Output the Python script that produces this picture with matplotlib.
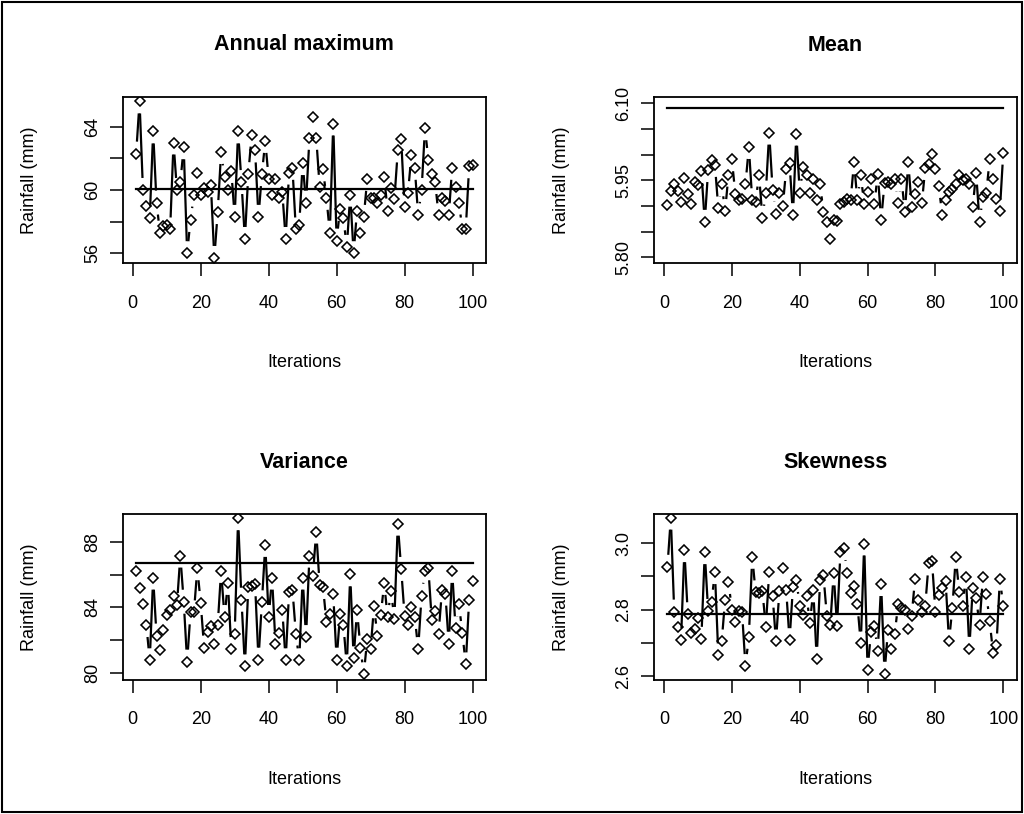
import numpy as np
import matplotlib
matplotlib.use("Agg")
import matplotlib.pyplot as plt
from matplotlib.collections import LineCollection
from matplotlib.patches import Rectangle

plt.rcParams['font.family'] = ['Liberation Sans', 'DejaVu Sans']

iterations = np.arange(1, 101)

annual_max = [62.3, 65.6, 60.0, 59.0, 58.2, 63.7, 59.2, 57.3, 57.7, 57.8,
              57.5, 63.0, 60.0, 60.5, 62.7, 56.0, 58.1, 59.7, 61.1, 59.7,
              60.1, 59.9, 60.3, 55.7, 58.6, 62.4, 60.8, 60.0, 61.2, 58.3,
              63.7, 60.5, 56.9, 61.0, 63.5, 62.5, 58.3, 61.0, 63.1, 60.7,
              59.7, 60.7, 59.5, 59.9, 56.9, 61.1, 61.4, 57.5, 57.8, 61.7,
              59.2, 63.3, 64.6, 63.3, 60.2, 61.3, 59.5, 57.3, 64.2, 56.8,
              58.8, 58.2, 56.4, 59.7, 56.0, 58.7, 57.3, 58.3, 60.7, 59.5,
              59.5, 59.2, 59.7, 60.8, 58.7, 60.1, 59.4, 62.5, 63.2, 58.9,
              59.8, 62.2, 61.4, 58.4, 60.0, 63.9, 61.9, 61.0, 60.5, 58.4,
              59.5, 59.3, 58.4, 61.4, 60.2, 59.2, 57.5, 57.5, 61.5, 61.6]
annual_max_obs = 60.05

mean_vals = [5.901, 5.930, 5.942, 5.930, 5.908, 5.954, 5.924, 5.904, 5.947, 5.940,
             5.968, 5.869, 5.970, 5.989, 5.980, 5.895, 5.942, 5.890, 5.961, 5.991,
             5.924, 5.911, 5.914, 5.942, 6.015, 5.911, 5.908, 5.961, 5.877, 5.926,
             6.043, 5.932, 5.885, 5.926, 5.899, 5.972, 5.983, 5.882, 6.041, 5.926,
             5.976, 5.961, 5.926, 5.952, 5.911, 5.942, 5.888, 5.869, 5.835, 5.872,
             5.870, 5.903, 5.908, 5.914, 5.911, 5.985, 5.911, 5.960, 5.903, 5.927,
             5.952, 5.903, 5.963, 5.872, 5.945, 5.947, 5.942, 5.952, 5.905, 5.952,
             5.888, 5.985, 5.898, 5.924, 5.947, 5.905, 5.974, 5.981, 6.002, 5.973,
             5.939, 5.882, 5.911, 5.927, 5.933, 5.942, 5.960, 5.950, 5.952, 5.942,
             5.898, 5.965, 5.869, 5.918, 5.926, 5.991, 5.952, 5.914, 5.891, 6.004]
mean_obs = 6.092

variance_vals = [86.22, 85.20, 84.19, 82.93, 80.79, 85.81, 82.29, 81.39, 82.61, 83.54,
                 83.87, 84.72, 84.15, 87.15, 84.35, 80.71, 83.70, 83.70, 86.38, 84.27,
                 81.56, 82.53, 82.85, 81.80, 82.93, 86.22, 83.42, 85.49, 81.47, 82.41,
                 89.42, 84.47, 80.42, 85.24, 85.28, 85.41, 80.83, 84.31, 87.80, 83.42,
                 85.81, 81.80, 82.45, 83.87, 80.79, 84.92, 85.08, 82.41, 80.79, 85.81,
                 82.20, 87.15, 85.93, 88.61, 85.37, 85.24, 83.10, 83.58, 84.80, 80.83,
                 83.58, 82.93, 80.42, 86.01, 80.91, 83.83, 81.56, 79.94, 82.08, 81.47,
                 84.07, 82.29, 83.54, 85.49, 83.42, 85.00, 83.30, 89.09, 86.34, 83.50,
                 82.93, 84.03, 83.42, 81.47, 84.72, 86.22, 86.38, 83.22, 83.79, 82.41,
                 85.04, 84.84, 81.80, 86.22, 82.73, 84.19, 82.45, 80.54, 84.47, 85.61]
variance_obs = 86.68

skewness_vals = [2.929, 3.077, 2.794, 2.748, 2.708, 2.979, 2.786, 2.730, 2.742, 2.774,
                 2.712, 2.973, 2.796, 2.824, 2.913, 2.662, 2.704, 2.830, 2.883, 2.800,
                 2.764, 2.796, 2.792, 2.630, 2.718, 2.959, 2.852, 2.850, 2.856, 2.748,
                 2.913, 2.842, 2.704, 2.856, 2.925, 2.860, 2.708, 2.868, 2.889, 2.812,
                 2.784, 2.842, 2.760, 2.858, 2.652, 2.889, 2.903, 2.780, 2.754, 2.909,
                 2.752, 2.975, 2.985, 2.911, 2.850, 2.872, 2.816, 2.698, 2.999, 2.619,
                 2.732, 2.752, 2.676, 2.877, 2.607, 2.738, 2.680, 2.726, 2.816, 2.804,
                 2.798, 2.742, 2.782, 2.893, 2.830, 2.794, 2.812, 2.939, 2.945, 2.794,
                 2.844, 2.864, 2.887, 2.704, 2.806, 2.959, 2.854, 2.812, 2.899, 2.682,
                 2.866, 2.836, 2.754, 2.899, 2.846, 2.766, 2.668, 2.692, 2.893, 2.810]
skewness_obs = 2.787

titles = ["Annual maximum", "Mean", "Variance", "Skewness"]
x_ticks = [0, 20, 40, 60, 80, 100]
y_ticks = [[56, 58, 60, 62, 64], [5.80, 5.85, 5.90, 5.95, 6.00, 6.05, 6.10],
           [80, 82, 84, 86, 88], [2.6, 2.7, 2.8, 2.9, 3.0]]
y_ticklabels = [["56", "", "60", "", "64"],
                ["5.80", "", "", "5.95", "", "", "6.10"],
                ["80", "", "84", "", "88"],
                ["2.6", "", "2.8", "", "3.0"]]
y_limits = [(55.36, 65.9), (5.788, 6.112), (79.59, 89.68), (2.588, 3.088)]
series = [annual_max, mean_vals, variance_vals, skewness_vals]
observed = [annual_max_obs, mean_obs, variance_obs, skewness_obs]

W, H = 1024, 814
fig = plt.figure(figsize=(W / 100, H / 100), dpi=100)
fig.patch.set_facecolor("white")

# panel frames in pixels: (left, top, right, bottom)
frames = [(122.7, 96.7, 486.0, 263.3), (654.0, 97.3, 1016.7, 263.3),
          (122.7, 514.0, 486.0, 680.0), (654.0, 514.0, 1016.7, 680.0)]

LW = 1.6
GAP = 12.0
FS = 13


def type_b(ax, x, y, gap):
    pts = ax.transData.transform(np.column_stack([x, y]))
    inv = ax.transData.inverted()
    segs = []
    for p0, p1 in zip(pts[:-1], pts[1:]):
        d = p1 - p0
        L = np.hypot(*d)
        if L > 2 * gap:
            u = d / L
            a = p0 + u * gap
            b = p1 - u * gap
            segs.append(inv.transform(np.array([a, b])))
    lc = LineCollection(segs, colors="black", linewidths=LW, capstyle="butt")
    ax.add_collection(lc)
    ax.plot(x, y, linestyle="none", marker="D", markersize=5.0,
            markerfacecolor="none", markeredgecolor="black", markeredgewidth=1.15)


for k in range(4):
    l, t, r, b = frames[k]
    ax = fig.add_axes([l / W, 1 - b / H, (r - l) / W, (b - t) / H])
    ax.set_xlim(-2.96, 103.96)
    ax.set_ylim(*y_limits[k])
    type_b(ax, iterations, series[k], GAP)
    ax.plot([1, 100], [observed[k], observed[k]], color="black", linewidth=LW)
    ax.set_xticks(x_ticks)
    ax.set_xticklabels([str(v) for v in x_ticks], fontsize=FS)
    ax.set_yticks(y_ticks[k])
    ax.set_yticklabels(y_ticklabels[k], fontsize=FS, rotation=90, va="center")
    ax.tick_params(axis="both", direction="out", length=9.5, width=1.1, color="black")
    ax.tick_params(axis="x", pad=13)
    ax.tick_params(axis="y", pad=6)
    for s in ax.spines.values():
        s.set_linewidth(1.3)
    cx = (l + r) / 2
    fig.text(cx / W, 1 - (t - 52) / H, titles[k], ha="center", va="center",
             fontsize=15.5, fontweight="bold")
    fig.text(cx / W, 1 - (b + 99) / H, "Iterations", ha="center", va="center", fontsize=FS)
    fig.text((l - 93) / W, 1 - ((t + b) / 2) / H, "Rainfall (mm)", ha="center", va="center",
             rotation=90, fontsize=FS)

fig.add_artist(Rectangle((0.002, 0.002), 0.996, 0.996, transform=fig.transFigure,
                         fill=False, edgecolor="black", linewidth=1.5))

fig.savefig("out.png", dpi=100)
